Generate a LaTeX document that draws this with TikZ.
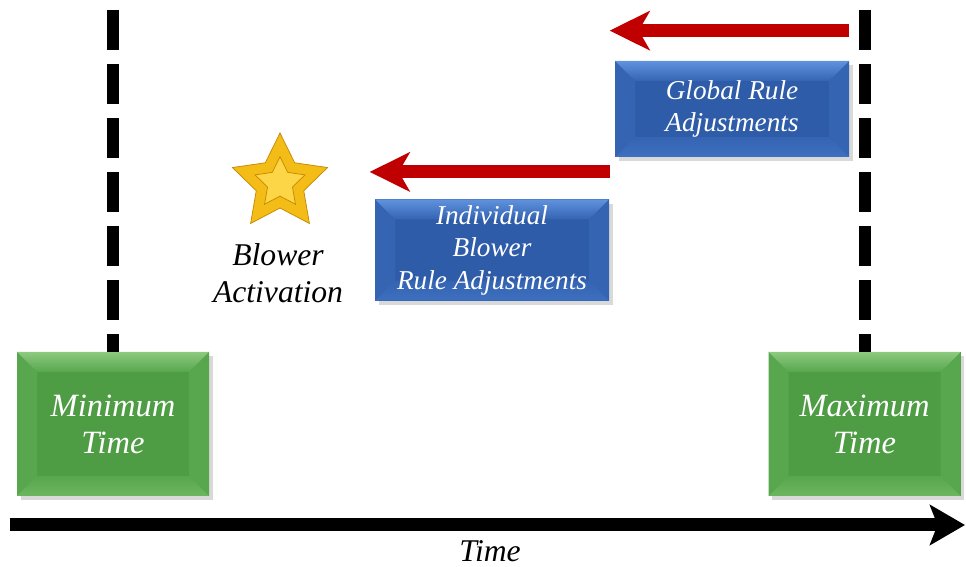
\documentclass[tikz,border=0pt]{standalone}
\usepackage{fontspec}
\setmainfont{Liberation Serif}
\usetikzlibrary{arrows.meta,calc,positioning,shapes.geometric,shadows}

\definecolor{gFace}{RGB}{78,156,68}
\definecolor{gTop}{RGB}{140,202,128}
\definecolor{gSide}{RGB}{88,166,78}
\definecolor{gBot}{RGB}{108,182,94}
\definecolor{bFace}{RGB}{46,92,168}
\definecolor{bTop}{RGB}{96,146,222}
\definecolor{bSide}{RGB}{52,100,178}
\definecolor{bBot}{RGB}{62,112,192}
\definecolor{arrRed}{RGB}{192,0,0}
\definecolor{gold}{RGB}{244,188,22}
\definecolor{goldL}{RGB}{252,214,70}
\definecolor{goldD}{RGB}{196,134,0}
\def\bev{0.4}

\tikzset{
  bevel/.style n args={4}{fill=#1,
    drop shadow={shadow xshift=.07cm, shadow yshift=-.09cm, opacity=.3},
    path picture={
      \coordinate (pNW) at (path picture bounding box.north west);
      \coordinate (pNE) at (path picture bounding box.north east);
      \coordinate (pSW) at (path picture bounding box.south west);
      \coordinate (pSE) at (path picture bounding box.south east);
      \fill[#3] (pNW) -- (pSW) -- ($(pSW)+(\bev,\bev)$)
           -- ($(pNW)+(\bev,-\bev)$) -- cycle;
      \fill[#3] (pNE) -- (pSE) -- ($(pSE)+(-\bev,\bev)$)
           -- ($(pNE)+(-\bev,-\bev)$) -- cycle;
      \shade[top color=#2, bottom color=#3] (pNW) -- (pNE)
           -- ($(pNE)+(-\bev,-\bev)$) -- ($(pNW)+(\bev,-\bev)$) -- cycle;
      \shade[top color=#3, bottom color=#4] (pSW) -- (pSE)
           -- ($(pSE)+(-\bev,\bev)$) -- ($(pSW)+(\bev,\bev)$) -- cycle;
    }},
  gbox/.style={bevel={gFace}{gTop}{gSide}{gBot}, rectangle,
    minimum width=3.84cm, minimum height=2.88cm, text=white,
    align=center, font=\fontsize{18.5}{21}\selectfont\itshape},
  bbox/.style={bevel={bFace}{bTop}{bSide}{bBot}, rectangle,
    minimum width=4.68cm, text=white, align=center,
    font=\fontsize{15.5}{18.5}\selectfont\itshape},
  redarr/.style={arrRed, line width=0.26cm,
    -{Stealth[length=0.8cm,width=0.78cm,inset=0.22cm]}},
  dashln/.style={line width=0.24cm, dash pattern=on 0.8cm off 0.28cm},
  txt/.style={align=center, font=\fontsize{18}{21}\selectfont\itshape}
}

\begin{document}
\begin{tikzpicture}
\useasboundingbox (0,0) rectangle (19.32,11.32);

% limits
\node[gbox] at (2.26,2.84) (minT) {Minimum\\Time};
\node[gbox] at (17.29,2.84) (maxT) {Maximum\\Time};

\coordinate (lTop) at (minT.north |- 0,11.12);
\coordinate (rTop) at (maxT.north |- 0,11.12);
\draw[dashln] (lTop) -- (minT.north);
\draw[dashln] (rTop) -- (maxT.north);

% adjustments
\node[bbox, minimum height=1.92cm] at (14.64,9.14) (glob)
     {Global Rule\\Adjustments};
\node[bbox, minimum height=1.80cm] at (9.84,6.32) (indv)
     {Individual\\Blower\\Rule Adjustments};

\coordinate (g1) at ($(glob.north east)+(0,0.6)$);
\coordinate (g2) at ($(glob.north west)+(-0.1,0.6)$);
\draw[redarr] (g1) -- (g2);
\coordinate (i1) at ($(glob.west |- indv.north)+(-0.1,0.54)$);
\coordinate (i2) at ($(indv.north west)+(-0.1,0.54)$);
\draw[redarr] (i1) -- (i2);

% activation
\node[star, star points=5, star point ratio=2.0, minimum size=2cm,
      inner sep=0, fill=gold, draw=goldD, thin] at (5.6,7.66) (star) {};
\node[star, star points=5, star point ratio=2.0, minimum size=1.05cm,
      inner sep=0, fill=goldL, draw=goldD, thin] at (star.center) (starIn) {};
\node[txt] at (5.56,5.86) (blow) {Blower\\Activation};

% time axis
\coordinate (t0) at (0.2,0.82);
\coordinate (t1) at (19.3,0.82);
\draw[line width=0.26cm, -{Stealth[length=0.7cm,width=0.8cm,inset=0.15cm]}]
     (t0) -- (t1);
\node[txt] at (9.8,0.3) (tlab) {Time};

\end{tikzpicture}
\end{document}
